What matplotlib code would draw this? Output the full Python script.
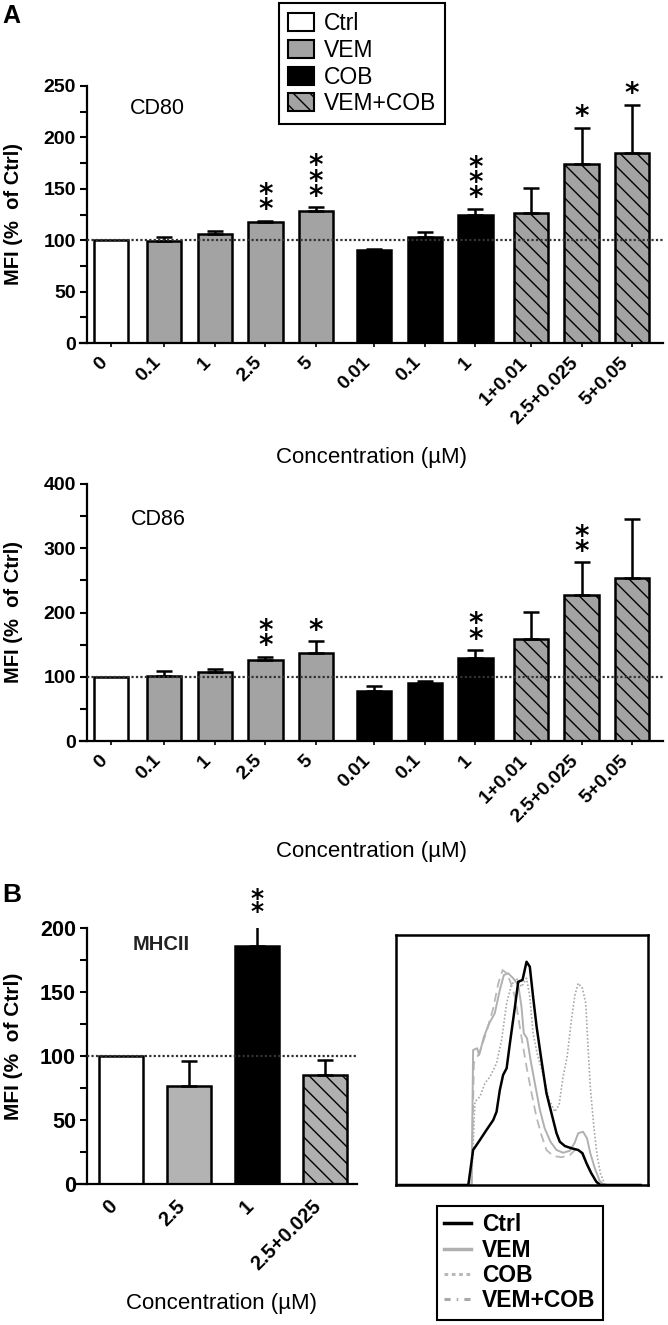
import numpy as np
import matplotlib
matplotlib.use("Agg")
import matplotlib.pyplot as plt
import matplotlib.transforms as mtransforms
from matplotlib.patches import Patch
from matplotlib.lines import Line2D
from matplotlib.ticker import MultipleLocator

plt.rcParams['font.family'] = ['Liberation Sans', 'DejaVu Sans']
plt.rcParams['hatch.linewidth'] = 1.0

# =====================================================
# DATA
# =====================================================

groups_a = ["Ctrl", "VEM", "VEM", "VEM", "VEM", "COB", "COB", "COB",
            "VEM+COB", "VEM+COB", "VEM+COB"]
conc_a = ["0", "0.1", "1", "2.5", "5", "0.01", "0.1", "1",
          "1+0.01", "2.5+0.025", "5+0.05"]

cd80_mean = [100, 99.5, 106, 117.5, 128, 90.5, 103, 124.5, 126, 174, 184.5]
cd80_sem = [0, 3.5, 3, 1.5, 4, 1, 5, 6, 24.5, 35.5, 47.5]
cd80_stars = [0, 0, 0, 2, 3, 0, 0, 3, 0, 1, 1]

cd86_mean = [100, 101.5, 107, 126.5, 136.5, 78, 91, 129.5, 158, 227, 254]
cd86_sem = [0, 8, 5, 4.5, 19, 8, 3, 12, 43, 51, 91.5]
cd86_stars = [0, 0, 0, 2, 1, 0, 0, 2, 0, 2, 0]

groups_b = ["Ctrl", "VEM", "COB", "VEM+COB"]
conc_b = ["0", "2.5", "1", "2.5+0.025"]
mhc_mean = [100, 76.5, 186, 85]
mhc_sem = [0, 19.5, 20, 12]
mhc_stars = [0, 0, 2, 0]

# flow cytometry histogram overlay (MHCII)
ctrl_x = [1, 28.7, 30.6, 33.3, 35.9, 38.6, 39.9, 41.2, 42.5, 43.9, 45.2, 47.2, 48.5,
          50.2, 51.8, 53.1, 54.4, 55.8, 57.7, 59.7, 61.7, 63.7, 65.0, 67.0, 69.6,
          72.3, 74.0, 75.6, 77.5, 79.5, 81.1, 97]
ctrl_y = [0, 0, 14.0, 18.0, 22.0, 26.0, 29.3, 38.0, 44.0, 46.7, 56.7, 71.3, 81.3,
          82.0, 89.3, 87.3, 75.3, 63.3, 50.0, 36.7, 28.7, 20.7, 17.3, 15.6, 14.7,
          14.0, 12.7, 8.7, 4.7, 1.3, 0, 0]
vem_x = [1, 30.0, 30.6, 32.2, 33.0, 34.9, 37.0, 39.2, 41.2, 42.8, 44.5, 46.5, 48.5,
         49.8, 50.7, 52.0, 53.4, 55.1, 57.1, 59.0, 61.3, 63.7, 66.3, 69.0, 70.9,
         72.3, 74.2, 75.8, 77.1, 78.9, 80.8, 82.4, 97]
vem_y = [0, 0, 54.0, 54.7, 52.0, 59.3, 64.7, 68.7, 78.0, 84.0, 84.7, 82.7, 80.0,
         71.3, 60.7, 58.7, 50.0, 40.7, 30.0, 22.7, 17.3, 14.0, 12.9, 13.7, 16.9,
         20.7, 21.3, 18.7, 12.7, 6.7, 1.7, 0, 0]
cob_x = [1, 30.0, 31.3, 33.3, 35.3, 37.3, 39.9, 41.9, 43.9, 45.8, 47.8, 49.8, 51.8,
         53.1, 54.4, 56.0, 58.4, 60.8, 63.0, 64.7, 66.3, 67.9, 69.6, 71.0, 72.3,
         74.0, 75.3, 76.2, 77.1, 78.5, 79.8, 81.1, 82.8, 84.1, 97]
cob_y = [0, 0, 33.3, 35.3, 40.7, 43.3, 48.7, 58.0, 72.7, 80.0, 82.7, 79.3, 82.7,
         75.3, 60.7, 52.7, 44.0, 34.0, 29.3, 32.0, 43.3, 51.3, 66.0, 76.0, 80.7,
         78.7, 72.7, 55.3, 39.3, 23.3, 12.0, 4.7, 0.4, 0, 0]
mix_x = [1, 30.0, 30.9, 33.3, 35.9, 38.6, 40.6, 42.3, 43.9, 45.4, 47.2, 48.7, 50.2,
         51.8, 53.8, 55.7, 57.7, 59.7, 62.4, 65.7, 69.0, 71.3, 73.6, 75.8, 77.9,
         79.8, 81.1, 97]
mix_y = [0, 0, 48.7, 53.3, 61.3, 70.7, 80.7, 86.0, 84.7, 81.3, 75.3, 66.0, 56.7,
         47.3, 36.7, 27.3, 20.0, 14.0, 11.6, 11.1, 12.0, 14.3, 12.9, 8.0, 3.6,
         0.7, 0, 0]

# =====================================================
# STYLE
# =====================================================

W, H = 668, 1325
fig = plt.figure(figsize=(W / 100, H / 100), dpi=100)

def box(x0, y0, x1, y1):
    # pixel box (top-left origin) -> figure fraction
    return [x0 / W, 1 - y1 / H, (x1 - x0) / W, (y1 - y0) / H]

fill_a = {"Ctrl": "white", "VEM": "#a3a3a3", "COB": "black", "VEM+COB": "#a3a3a3"}
fill_b = {"Ctrl": "white", "VEM": "#b3b3b3", "COB": "black", "VEM+COB": "#b0b0b0"}
hatch = {"Ctrl": None, "VEM": None, "COB": None, "VEM+COB": "\\\\"}
gap = {"Ctrl": 0, "VEM": 0.05, "COB": 0.2, "VEM+COB": 0.3}


def bar_panel(ax, pos, mean, sem, stars, groups, labels, fills, width,
              spine_in, tick_fs, star_fs, xtick_fs):
    mean = np.array(mean, dtype=float)
    sem = np.array(sem, dtype=float)
    for p, m, g in zip(pos, mean, groups):
        ax.bar(p, m, width, color=fills[g], edgecolor="black", linewidth=1.8,
               hatch=hatch[g], zorder=2)
    keep = sem > 0
    ax.errorbar(np.array(pos)[keep], mean[keep],
                yerr=[np.zeros(keep.sum()), sem[keep]], fmt="none",
                ecolor="black", elinewidth=1.8, capsize=6, capthick=1.8, zorder=3)
    # significance stars, stacked one above the other
    for p, m, s, n in zip(pos, mean, sem, stars):
        if n:
            ax.annotate("\n".join(["*"] * n), xy=(p, m + s), xytext=(0, -2.5),
                        textcoords="offset points", ha="center", va="bottom",
                        fontsize=star_fs, fontweight="bold", linespacing=0.42,
                        family="DejaVu Sans", zorder=5, annotation_clip=False)
    ax.spines[["top", "right"]].set_visible(False)
    for sp in ["left", "bottom"]:
        ax.spines[sp].set_linewidth(1.6)
    ax.spines["left"].set_position(("outward", -spine_in))
    ax.set_xticks(pos)
    ax.set_xticklabels(labels, rotation=45, ha="right", fontsize=xtick_fs,
                       fontweight="bold")
    shift = mtransforms.ScaledTranslation(8 / 100, 0, fig.dpi_scale_trans)
    for lab in ax.get_xticklabels():
        lab.set_transform(lab.get_transform() + shift)
    ax.tick_params(axis="y", which="both", length=5, width=1.5,
                   labelsize=tick_fs, pad=3)
    for lab in ax.get_yticklabels():
        lab.set_fontweight("bold")
    ax.set_facecolor("none")


# =====================================================
# PANEL A : CD80
# =====================================================

pos_a = [i + gap[g] for i, g in enumerate(groups_a)]

ax1 = fig.add_axes(box(80, 86, 663, 343))
ax1.set_xlim(-0.613, 10.909)
ax1.set_ylim(0, 250)
ax1.set_yticks(range(0, 251, 50))
ax1.yaxis.set_minor_locator(MultipleLocator(25))
bar_panel(ax1, pos_a, cd80_mean, cd80_sem, cd80_stars, groups_a, conc_a,
          fill_a, 0.68, 5.0, 14, 20, 14)
ax1.tick_params(axis="x", length=3, width=1.2, pad=5)
ax1.hlines(100, -0.474, 10.909, colors="#333333", linestyles=(0, (1, 1)),
           linewidth=1.6, zorder=4)
ax1.text(0.132, 0.911, "CD80", transform=ax1.transAxes, ha="center",
         va="center", fontsize=15.5)

# =====================================================
# PANEL A : CD86
# =====================================================

ax2 = fig.add_axes(box(80, 484, 663, 741))
ax2.set_xlim(-0.613, 10.909)
ax2.set_ylim(0, 400)
ax2.set_yticks(range(0, 401, 100))
ax2.yaxis.set_minor_locator(MultipleLocator(50))
bar_panel(ax2, pos_a, cd86_mean, cd86_sem, cd86_stars, groups_a, conc_a,
          fill_a, 0.68, 5.0, 14, 20, 14)
ax2.tick_params(axis="x", length=3, width=1.2, pad=5)
ax2.hlines(100, -0.474, 10.909, colors="#333333", linestyles=(0, (1, 1)),
           linewidth=1.6, zorder=4)
ax2.text(0.134, 0.86, "CD86", transform=ax2.transAxes, ha="center",
         va="center", fontsize=15.5)

# =====================================================
# PANEL B : MHCII bars
# =====================================================

pos_b = list(range(len(groups_b)))
ax3 = fig.add_axes(box(77, 928, 357, 1184))
ax3.set_xlim(-0.647, 3.47)
ax3.set_ylim(0, 200)
ax3.set_yticks(range(0, 201, 50))
ax3.yaxis.set_minor_locator(MultipleLocator(25))
bar_panel(ax3, pos_b, mhc_mean, mhc_sem, mhc_stars, groups_b, conc_b,
          fill_b, 0.65, 7.2, 15.5, 18, 14.5)
ax3.tick_params(axis="x", length=0, pad=9)
ax3.hlines(100, -0.5, 3.47, colors="#333333", linestyles=(0, (1, 1)),
           linewidth=1.6, zorder=4)
ax3.text(0.30, 0.934, "MHCII", transform=ax3.transAxes, ha="center",
         va="center", fontsize=14.5, fontweight="bold", color="#222222")

# =====================================================
# PANEL B : histogram overlay
# =====================================================

ax4 = fig.add_axes(box(396, 935, 648, 1185))
ax4.plot(cob_x, cob_y, color="#a8a8a8", lw=1.2, ls=(0, (1, 1.2)))
ax4.plot(mix_x, mix_y, color="#b8b8b8", lw=1.3, ls=(0, (5, 3)))
ax4.plot(vem_x, vem_y, color="#b0b0b0", lw=1.4)
ax4.plot(ctrl_x, ctrl_y, color="black", lw=1.8)
ax4.set_xlim(0, 100)
ax4.set_ylim(0, 100)
ax4.set_xticks([])
ax4.set_yticks([])
for sp in ax4.spines.values():
    sp.set_linewidth(1.8)

# =====================================================
# LABELS AND LEGENDS
# =====================================================

ylab = "MFI (%  of Ctrl)"
fig.text(14 / W, 1 - 214 / H, ylab, rotation=90, ha="center", va="center",
         fontsize=14.5, fontweight="bold")
fig.text(14 / W, 1 - 612 / H, ylab, rotation=90, ha="center", va="center",
         fontsize=14.5, fontweight="bold")
fig.text(14 / W, 1 - 1046 / H, ylab, rotation=90, ha="center", va="center",
         fontsize=15, fontweight="bold")

xlab = "Concentration (\u00b5M)"
fig.text(372 / W, 1 - 457 / H, xlab, ha="center", va="center", fontsize=16)
fig.text(372 / W, 1 - 851 / H, xlab, ha="center", va="center", fontsize=16)
fig.text(222 / W, 1 - 1303 / H, xlab, ha="center", va="center", fontsize=16)

fig.text(2 / W, 1 - 4 / H, "A", ha="left", va="top", fontsize=18,
         fontweight="bold")
fig.text(2 / W, 1 - 883 / H, "B", ha="left", va="top", fontsize=19,
         fontweight="bold")

legend_names = ["Ctrl", "VEM", "COB", "VEM+COB"]
bar_handles = [Patch(facecolor=fill_a[g], edgecolor="black", linewidth=1.5,
                     hatch=hatch[g]) for g in legend_names]
leg1 = fig.legend(bar_handles, legend_names, loc="upper left",
                  bbox_to_anchor=(279 / W, 1 - 3 / H), borderaxespad=0,
                  fontsize=16.5, handlelength=1.13, handleheight=0.83,
                  handletextpad=0.45, labelspacing=0.17, borderpad=0.38,
                  fancybox=False, framealpha=1, edgecolor="black")
leg1.get_frame().set_linewidth(1.5)

line_handles = [Line2D([], [], color="black", lw=2.5),
                Line2D([], [], color="#b0b0b0", lw=2.5),
                Line2D([], [], color="#b8b8b8", lw=2.2, ls=(0, (1.2, 1.2))),
                Line2D([], [], color="#a8a8a8", lw=2.2, ls=(0, (2, 2, 0.5, 2)))]
leg2 = fig.legend(line_handles, legend_names, loc="upper left",
                  bbox_to_anchor=(437 / W, 1 - 1206 / H), borderaxespad=0,
                  prop={"size": 16.5, "weight": "bold"}, handlelength=1.15,
                  handletextpad=0.5, labelspacing=0.1, borderpad=0.32,
                  fancybox=False, framealpha=1, edgecolor="black")
leg2.get_frame().set_linewidth(1.5)

fig.savefig("out.png", dpi=100)
